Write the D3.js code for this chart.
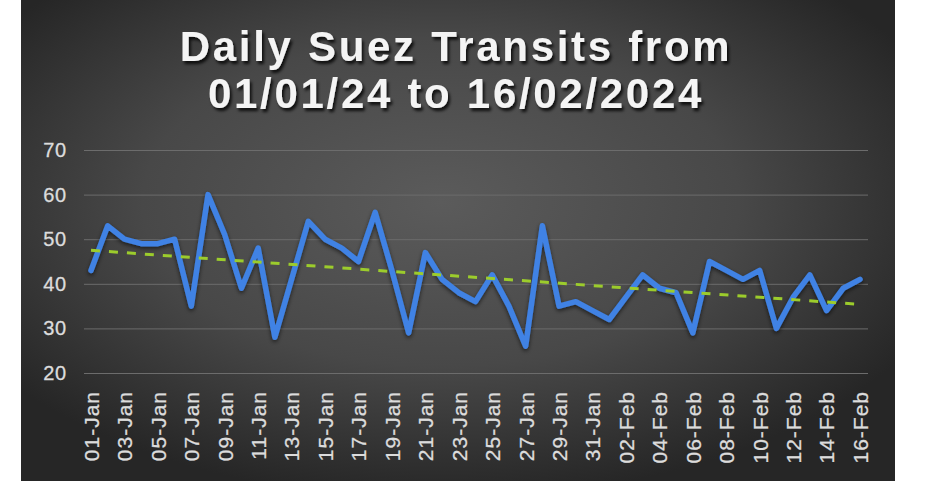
<!DOCTYPE html>
<html>
<head>
<meta charset="utf-8">
<script src="https://cdn.jsdelivr.net/npm/d3@7"></script>
<style>
  html, body { margin: 0; padding: 0; background: #fff; }
  svg { display: block; }
  text { font-family: "Liberation Sans", Arial, sans-serif; }
</style>
</head>
<body>
<svg width="927" height="483"></svg>
<script>
// daily transits, 01-Jan .. 16-Feb 2024
var days = ['01-Jan','02-Jan','03-Jan','04-Jan','05-Jan','06-Jan','07-Jan','08-Jan','09-Jan','10-Jan',
    '11-Jan','12-Jan','13-Jan','14-Jan','15-Jan','16-Jan','17-Jan','18-Jan','19-Jan','20-Jan',
    '21-Jan','22-Jan','23-Jan','24-Jan','25-Jan','26-Jan','27-Jan','28-Jan','29-Jan','30-Jan',
    '31-Jan','01-Feb','02-Feb','03-Feb','04-Feb','05-Feb','06-Feb','07-Feb','08-Feb','09-Feb',
    '10-Feb','11-Feb','12-Feb','13-Feb','14-Feb','15-Feb','16-Feb'];
var transits = [43, 53, 50, 49, 49, 50, 35, 60, 51, 39,
    48, 28, 41, 54, 50, 48, 45, 56, 43, 29,
    47, 41, 38, 36, 42, 35, 26, 53, 35, 36,
    34, 32, 37, 42, 39, 38, 29, 45, 43, 41,
    43, 30, 37, 42, 34, 39, 41];
// linear trend, read at first and last day
var trendEnds = [47.5, 35.4];
var yTicks = [20, 30, 40, 50, 60, 70];
var titleLines = ['Daily Suez Transits from', '01/01/24 to 16/02/2024'];

document.addEventListener('DOMContentLoaded', function () {
    var svg = d3.select('svg');

    var defs = svg.append('defs');
    var bg = defs.append('radialGradient')
        .attr('id', 'bg')
        .attr('cx', '48%').attr('cy', '42%').attr('r', '62%');
    bg.append('stop').attr('offset', '0%').attr('stop-color', '#5b5b5b');
    bg.append('stop').attr('offset', '55%').attr('stop-color', '#484848');
    bg.append('stop').attr('offset', '100%').attr('stop-color', '#262626');

    var shadow = defs.append('filter').attr('id', 'shadow')
        .attr('x', '-10%').attr('y', '-20%').attr('width', '130%').attr('height', '150%');
    shadow.append('feDropShadow')
        .attr('dx', 2).attr('dy', 3).attr('stdDeviation', 1.5)
        .attr('flood-color', '#000').attr('flood-opacity', 0.8);

    var glow = defs.append('filter').attr('id', 'glow')
        .attr('x', '-5%').attr('y', '-10%').attr('width', '110%').attr('height', '120%');
    glow.append('feDropShadow')
        .attr('dx', 0).attr('dy', 2).attr('stdDeviation', 2)
        .attr('flood-color', '#000').attr('flood-opacity', 0.6);

    svg.append('rect')
        .attr('x', 21).attr('y', 0)
        .attr('width', 874).attr('height', 481)
        .attr('fill', 'url(#bg)');

    var x = d3.scalePoint()
        .domain(days)
        .range([91, 860]);
    var y = d3.scaleLinear()
        .domain([20, 70])
        .range([373, 150]);

    // title
    svg.selectAll('.title')
        .data(titleLines)
        .enter()
        .append('text')
        .attr('class', 'title')
        .attr('x', 456)
        .attr('y', function (d, i) { return 61 + i * 47; })
        .attr('text-anchor', 'middle')
        .attr('fill', '#f4f4f4')
        .attr('font-size', 42)
        .attr('font-weight', 'bold')
        .attr('letter-spacing', 2.7)
        .attr('filter', 'url(#shadow)')
        .text(function (d) { return d; });

    // gridlines + y labels
    var yAxis = d3.axisLeft(y)
        .tickValues(yTicks)
        .tickSize(-(868 - 84))
        .tickPadding(17);
    var gy = svg.append('g')
        .attr('transform', 'translate(84,0)')
        .call(yAxis);
    gy.select('.domain').remove();
    gy.selectAll('.tick line')
        .attr('stroke', '#6c6c6c')
        .attr('stroke-width', 1);
    gy.selectAll('.tick text')
        .attr('fill', '#dcdcdc')
        .attr('font-size', 20)
        .attr('letter-spacing', 0.8)
        .attr('stroke', '#dcdcdc')
        .attr('stroke-width', 0.3)
        .attr('font-family', '"Liberation Sans", Arial, sans-serif');

    // x labels, every other day
    var xAxis = d3.axisBottom(x)
        .tickValues(days.filter(function (d, i) { return i % 2 === 0; }))
        .tickSize(0)
        .tickPadding(0);
    var gx = svg.append('g')
        .attr('transform', 'translate(0,380)')
        .call(xAxis);
    gx.select('.domain').remove();
    gx.selectAll('.tick text')
        .attr('fill', '#dcdcdc')
        .attr('stroke', '#dcdcdc')
        .attr('stroke-width', 0.3)
        .attr('font-size', 21)
        .attr('letter-spacing', 1)
        .attr('font-family', '"Liberation Sans", Arial, sans-serif')
        .attr('text-anchor', 'end')
        .attr('dy', '0.35em')
        .attr('transform', 'translate(0,11) rotate(-90)')
        .attr('x', 0)
        .attr('y', 0);

    // data line
    var line = d3.line()
        .x(function (d, i) { return x(days[i]); })
        .y(function (d) { return y(d); });

    svg.append('path')
        .datum(transits)
        .attr('d', line)
        .attr('fill', 'none')
        .attr('stroke', '#3f82e4')
        .attr('stroke-width', 5.5)
        .attr('stroke-linejoin', 'round')
        .attr('stroke-linecap', 'round')
        .attr('filter', 'url(#glow)');

    // trend line
    var trendLine = d3.line()
        .x(function (d, i) { return x(days[i === 0 ? 0 : days.length - 1]); })
        .y(function (d) { return y(d); });

    svg.append('path')
        .datum(trendEnds)
        .attr('d', trendLine)
        .attr('fill', 'none')
        .attr('stroke', '#9ccc2c')
        .attr('stroke-width', 3)
        .attr('stroke-dasharray', '9,9');
});
</script>
</body>
</html>
